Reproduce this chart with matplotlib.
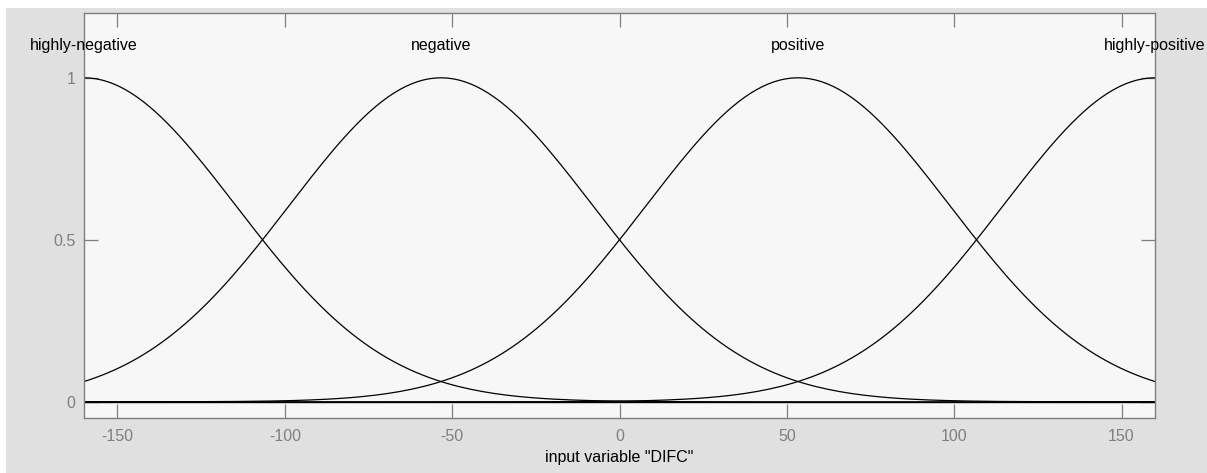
import numpy as np
import matplotlib
matplotlib.use("Agg")
import matplotlib.pyplot as plt
from matplotlib.patches import Rectangle

# Gaussian membership functions of input variable "DIFC"
mf_names = ["highly-negative", "negative", "positive", "highly-positive"]
mf_centers = [-160.0, -53.33, 53.33, 160.0]
mf_sigmas = [45.3, 45.3, 45.3, 45.3]
x_range = [-160, 160]
x_ticks = [-150, -100, -50, 0, 50, 100, 150]
y_ticks = [0, 0.5, 1]
y_tick_labels = ["0", "0.5", "1"]
x_label = 'input variable "DIFC"'

plt.rcParams["font.family"] = ["Liberation Sans", "DejaVu Sans"]
plt.rcParams["axes.unicode_minus"] = False

W, H, DPI = 1207, 473, 100
fig = plt.figure(figsize=(W / DPI, H / DPI), dpi=DPI, facecolor="white")

# grey panel behind the axes
fig.patches.append(Rectangle((6 / W, 0), 1 - 6 / W, (H - 8) / H,
                             transform=fig.transFigure, facecolor="#e0e0e0",
                             edgecolor="none", zorder=-10))

ax = fig.add_axes([84 / W, 1 - 418 / H, (1155 - 84) / W, (418 - 13) / H])
ax.set_zorder(1)
ax.set_facecolor("#f7f7f7")

x = np.linspace(x_range[0], x_range[1], 181)
for name, c, s in zip(mf_names, mf_centers, mf_sigmas):
    y = np.exp(-((x - c) ** 2) / (2 * s ** 2))
    ax.plot(x, y, color="black", lw=0.9)
    ax.text(c, 1.1, name, ha="center", va="center", fontsize=11.5,
            color="black", clip_on=False)

ax.axhline(0, color="black", lw=1.0)

ax.set_xlim(*x_range)
ax.set_ylim(-0.05, 1.2)
ax.set_xticks(x_ticks)
ax.set_yticks(y_ticks)
ax.set_yticklabels(y_tick_labels)

grey = "#7f7f7f"
for sp in ax.spines.values():
    sp.set_color(grey)
    sp.set_linewidth(1.0)
ax.tick_params(direction="in", length=10, width=0.9, color=grey,
               labelcolor=grey, labelsize=11.5, top=True, right=True,
               pad=6)
ax.tick_params(axis="x", pad=8)
ax.set_xlabel(x_label, fontsize=11.5, color="black", labelpad=4)

fig.savefig("out.png", dpi=DPI, facecolor=fig.get_facecolor())
